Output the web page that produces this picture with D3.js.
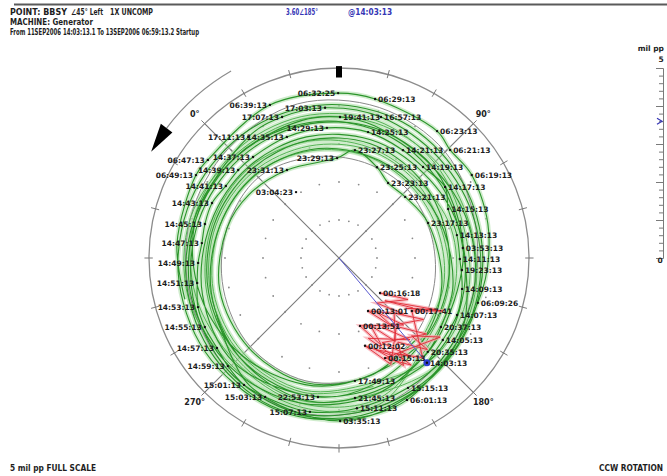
<!DOCTYPE html>
<html>
<head>
<meta charset="utf-8">
<script src="https://cdn.jsdelivr.net/npm/d3@7"></script>
<style>
  html, body { margin: 0; padding: 0; background: #fff; }
  svg { display: block; }
  text { font-family: "DejaVu Sans", "Liberation Sans", sans-serif; }
</style>
</head>
<body>
<svg id="chart" width="667" height="476"></svg>
<script>
// ---------------- data ----------------
const fullScaleMil = 5;                 // mil pp at the outer circle
const gridRings = [1, 2, 3, 4];         // mil pp
const gridPhaseStep = 15;               // degrees
const compassPhases = [0, 90, 180, 270];
const compassLabels = ["0°", "90°", "180°", "270°"];

const headerPoint = ["POINT: BBSY", "∠45° Left", "1X UNCOMP"];
const headerReading = ["3.60∠185°", "@14:03:13"];
const headerMachine = "MACHINE: Generator";
const headerRange = "From 11SEP2006 14:03:13.1 To 13SEP2006 06:59:13.2 Startup";
const footerLeft = "5 mil pp  FULL SCALE";
const footerRight = "CCW ROTATION";
const unitLabel = "mil pp";

// cursor vector (1X amplitude mil pp, phase deg)
const cursorAmp = 3.60;
const cursorPhase = 185;

// 1X vector trend, first run (amplitude mil pp / phase deg, in time order)
const runOneAmp = [
  3.60,3.48,3.45,3.34,3.18,3.16,3.15,3.36,3.26,3.30,3.40,3.44,3.47,3.49,3.52,3.53,3.64,3.64,3.63,3.71,
  3.79,3.93,3.97,3.99,4.08,4.17,4.14,4.12,3.98,3.87,
  3.80,3.66,3.52,3.44,3.55,3.62,3.70,3.82,3.98,4.15,4.22,4.05,3.92,3.78,3.70,3.72,3.87,
  3.97,4.00,3.98,3.90,3.78,3.62,3.45,3.26,
  3.10,2.95,2.90,2.98,3.12,3.20,3.28,3.40,3.55,3.70,3.72,3.55,3.40,3.25,
  3.30,3.45,3.60,3.71,
  3.75,3.80,3.90,4.02,4.05,3.95,3.72,3.40,3.24,
  3.10,2.85,2.75,2.80,2.95,3.10,3.25,3.48,3.70,3.85,3.71,
  3.60,3.40,3.25,3.15,3.22,3.30,3.38,3.50,3.72,3.90,3.70,
  3.45,3.10,2.80,2.52,2.37,2.36,2.59,2.87,2.63,2.69,2.90,3.05,3.25,3.35,3.40,3.20,2.95
];
const runOnePhase = [
  185,173.3,160.8,149.1,135.5,124,110.8,101.2,87.7,75.7,58,39.7,21.7,4.6,356.1,347.5,338.4,329.2,321.2,313,
  305,295.8,287.8,278.6,270.8,261.8,253,235.7,218.2,197,
  180,150,120,90,60,30,0,330,300,270,240,210,180,150,120,90,61.6,
  39.7,23,8.1,330,300,270,240,217.6,
  180,150,120,90,60,30,0,330,300,270,240,210,180,140.6,
  120,90,60,45.4,
  30,0,330,300,270,240,210,181.6,169.1,
  150,120,90,60,30,0,330,300,270,240,218.5,
  180,150,120,90,60,30,0,330,300,270,233.6,
  210,180,150,113.5,92.3,78.2,67.7,53.4,43.9,14.4,350,330,300,270,240,210,180
];

// 1X vector trend, unlabelled middle run
const runMidAmp = [
  3.05,2.85,2.70,2.68,2.78,2.92,3.12,3.25,3.42,3.55,3.60,3.40,
  3.62,3.52,3.38,3.55,3.75,3.85,3.92,3.95,3.90,3.85,3.95,3.85,
  3.30,3.15,3.05,2.92,3.02,3.18,3.35,3.45,3.60,3.78,3.88,3.70,
  3.85,3.70,3.55,3.60,3.68,3.78,3.85,4.05,4.10,4.00,4.05,4.00,
  3.20,2.98,2.80,2.85,2.95,3.05,3.20,3.35,3.50,3.62,3.66,3.50
];
const runMidPhase = [
  180,150,120,90,60,30,0,330,300,270,240,210,
  180,150,120,90,60,30,0,330,300,270,240,210,
  180,150,120,90,60,30,0,330,300,270,240,210,
  180,150,120,90,60,30,0,330,300,270,240,210,
  180,150,120,90,60,30,0,330,300,270,240,210
];

// 1X vector trend, second run
const runTwoAmp = [
  3.55,4.10,4.29,4.05,3.75,3.27,3.30,3.45,3.62,3.75,3.90,4.05,4.18,4.28,4.20,4.00,
  3.85,3.78,3.82,3.95,4.05,4.12,4.18,4.25,4.30,4.32,4.25,4.14,3.84,4.00,4.12,4.08,
  4.22,4.29,4.34,4.42,4.31,4.35,4.28,4.20
];
const runTwoPhase = [
  290,260,224.6,195,165,130.4,100,70,40,10,340,310,280,250,220,190,
  160,130,100,70,40,10,340,310,280,250,225,199.4,152.9,125,103,90.8,
  82.7,57.8,44.7,20.7,351.8,345.1,320,300
];

// startup transient
const startupAmp = [
  1.42,2.12,1.55,2.25,1.59,2.29,1.75,2.45,1.87,2.57,1.95,2.65,2.05,2.75,2.15,2.85,2.25,2.95,2.41,3.11,
  2.35,3.05,2.50,3.20,2.60,3.30,2.70,3.35,2.80,3.38,2.90,3.40,2.95,3.42,2.37,3.07,2.20,2.90,1.65,2.35
];
const startupPhase = [
  175.5,166,185,176,196.3,187,190,181,207.8,199,200,191,180,171,193,184,205,196,208.5,199,
  185,176,198,189,203,194,190,181,182,173,200.3,191,194,185,171,162,172,163,178,169
];

// reference loops
const refLoopPhase = [0,30,60,90,120,150,180,210,240,270,300,330];
const refInnerAmp  = [3.00,2.75,2.60,2.55,2.50,2.60,2.85,3.20,3.35,3.30,3.15,3.05];
const refOuterAmp  = [4.10,4.20,4.10,3.95,3.70,3.65,3.80,4.05,4.20,4.15,4.05,4.05];

// time stamps along the trend
const stampTimes = [
  "06:32:25","06:39:13","17:03:13","06:29:13","17:07:13","19:41:13","16:57:13","14:29:13","14:25:13","06:23:13",
  "17:11:13","14:35:13","23:27:13","14:21:13","06:21:13","06:47:13","14:37:13","23:29:13","23:25:13","14:19:13",
  "06:19:13","06:49:13","14:39:13","23:31:13","23:23:13","14:17:13","14:41:13","03:04:23","23:21:13","14:43:13",
  "14:15:13","23:17:13","14:45:13","14:13:13","14:47:13","03:53:13","14:11:13","14:49:13","19:23:13","14:51:13",
  "14:09:13","00:16:18","06:09:26","14:53:13","00:13:01","00:17:41","14:07:13","00:13:51","14:55:13","20:37:13",
  "14:05:13","00:12:02","14:57:13","20:35:13","00:15:13","14:03:13","14:59:13","17:49:13","15:01:13","15:15:13",
  "15:03:13","22:53:13","21:45:13","06:01:13","15:11:13","15:07:13","03:35:13"
];
const stampAmp = [
  4.34,4.42,3.97,4.29,4.00,3.71,3.87,3.44,3.40,4.22,
  3.98,3.47,2.87,3.30,4.08,4.31,3.49,2.63,2.59,3.26,
  4.12,4.35,3.52,2.69,2.36,3.36,3.53,2.07,2.37,3.64,
  3.15,2.52,3.64,3.16,3.63,3.27,3.18,3.71,3.25,3.79,
  3.34,1.42,3.84,3.93,1.59,2.37,3.45,1.87,3.97,3.24,
  3.48,2.41,3.99,3.40,2.90,3.60,4.08,3.26,4.17,3.87,
  4.14,3.70,3.71,4.14,3.98,4.12,4.29
];
const stampPhase = [
  44.7,20.7,39.7,57.8,23,45.4,61.6,39.7,58,82.7,
  8.1,21.7,53.4,75.7,90.8,351.8,4.6,43.9,67.7,87.7,
  103,345.1,356.1,14.4,78.2,101.2,347.5,11.9,92.3,338.4,
  110.8,113.5,329.2,124,321.2,130.4,135.5,313,140.6,305,
  149.1,175.5,152.9,295.8,196.3,171,160.8,207.8,287.8,169.1,
  173.3,208.5,278.6,181.6,200.3,185,270.8,217.6,261.8,197,
  253,233.6,218.5,199.4,218.2,235.7,224.6
];

// ---------------- layout ----------------
const svg = d3.select("#chart");
const cx = 339, cy = 258, R = 190;
const probeOffset = 45;   // 0° sits 45° left of vertical, phase runs clockwise

const xs = d3.scaleLinear().domain([-fullScaleMil, fullScaleMil]).range([cx - R, cx + R]);
const ys = d3.scaleLinear().domain([-fullScaleMil, fullScaleMil]).range([cy + R, cy - R]);
const toRad = d => d * Math.PI / 180;
function pt(amp, phase) {
  const a = toRad(phase - probeOffset);
  return [xs(amp * Math.sin(a)), ys(amp * Math.cos(a))];
}
const pxPerMil = xs(1) - xs(0);

// header rule
svg.append("line").attr("x1", 14).attr("x2", 667).attr("y1", 4.5).attr("y2", 4.5)
  .attr("stroke", "#5a5a5a").attr("stroke-width", 2);

// header text
const hdr = svg.append("g").attr("font-weight", "bold").attr("fill", "#1e1e1e").attr("font-size", 8);
const hdrItems = [
  {t: headerPoint[0], x: 10, y: 15, w: 57},
  {t: headerPoint[1], x: 71, y: 15, w: 32},
  {t: headerPoint[2], x: 110, y: 15, w: 43},
  {t: headerReading[0], x: 286, y: 15, w: 32, c: "#3535b5"},
  {t: headerReading[1], x: 348, y: 15, w: 44, c: "#3535b5"},
  {t: headerMachine, x: 10, y: 25, w: 83},
  {t: headerRange, x: 10, y: 35, w: 189}
];
hdr.selectAll("text").data(hdrItems).join("text")
  .attr("x", d => d.x).attr("y", d => d.y)
  .attr("textLength", d => d.w).attr("lengthAdjust", "spacingAndGlyphs")
  .attr("fill", d => d.c || null)
  .text(d => d.t);

// footer
svg.append("text").attr("x", 10).attr("y", 471).attr("font-size", 8).attr("font-weight", "bold")
  .attr("fill", "#1e1e1e").attr("textLength", 86).attr("lengthAdjust", "spacingAndGlyphs").text(footerLeft);
svg.append("text").attr("x", 663).attr("y", 471).attr("font-size", 8).attr("font-weight", "bold")
  .attr("text-anchor", "end").attr("fill", "#1e1e1e").attr("textLength", 64).attr("lengthAdjust", "spacingAndGlyphs")
  .text(footerRight);

// ---------------- polar grid ----------------
const grid = svg.append("g");
const dots = [];
gridRings.forEach(r => d3.range(0, 360, gridPhaseStep).forEach(p => dots.push(pt(r, p))));
grid.selectAll("circle.dot").data(dots).join("circle").attr("class", "dot")
  .attr("cx", d => d[0]).attr("cy", d => d[1]).attr("r", 0.9).attr("fill", "#8a8a8a");

grid.append("circle").attr("cx", xs(0)).attr("cy", ys(0)).attr("r", pxPerMil * fullScaleMil)
  .attr("fill", "none").attr("stroke", "#8c8c8c").attr("stroke-width", 1.3);

// crosshair along the 0/180 and 90/270 phase directions
[[0, 180], [90, 270]].forEach(([a, b]) => {
  const p1 = pt(fullScaleMil, a), p2 = pt(fullScaleMil, b);
  grid.append("line").attr("x1", p1[0]).attr("y1", p1[1]).attr("x2", p2[0]).attr("y2", p2[1])
    .attr("stroke", "#7a7a7a").attr("stroke-width", 1.1);
});

// rim ticks every 15°
d3.range(0, 360, gridPhaseStep).filter(p => p !== probeOffset).forEach(p => {
  const a = pt(fullScaleMil - 0.1, p), b = pt(fullScaleMil + 0.12, p);
  grid.append("line").attr("x1", a[0]).attr("y1", a[1]).attr("x2", b[0]).attr("y2", b[1])
    .attr("stroke", "#7a7a7a").attr("stroke-width", 1);
});

// probe marker at top of rim
grid.append("rect").attr("x", xs(0) - 3).attr("y", ys(fullScaleMil + 0.05))
  .attr("width", 6).attr("height", ys(fullScaleMil - 0.25) - ys(fullScaleMil + 0.05)).attr("fill", "#000");

// compass labels
grid.selectAll("text.cmp").data(compassPhases).join("text").attr("class", "cmp")
  .attr("x", d => pt(fullScaleMil + 0.37, d)[0])
  .attr("y", d => pt(fullScaleMil + 0.37, d)[1] + 3)
  .attr("text-anchor", "middle").attr("font-size", 8).attr("font-weight", "bold").attr("fill", "#222")
  .text((d, i) => compassLabels[i]);

// rotation arrow (counter-clockwise)
const arcR = pxPerMil * 5.68;
const arcPath = d3.path();
arcPath.arc(xs(0), ys(0), arcR, toRad(-30 - 90), toRad(-53 - 90), true);
grid.append("path").attr("d", arcPath.toString()).attr("fill", "none")
  .attr("stroke", "#8c8c8c").attr("stroke-width", 1.2);
const tip = pt(5.68, -60.5 + probeOffset);
const b1 = pt(5.68 - 0.19, -53 + probeOffset), b2 = pt(5.68 + 0.19, -53 + probeOffset);
grid.append("path").attr("d", `M${tip}L${b1}L${b2}Z`).attr("fill", "#000");

// ---------------- traces ----------------
const curve = d3.line().curve(d3.curveCatmullRom.alpha(0.5));
const closed = d3.line().curve(d3.curveCatmullRomClosed.alpha(0.5));
const trendPts = (amps, phases) => amps.map((a, i) => pt(a, phases[i]));

const traces = svg.append("g");
const runOne = trendPts(runOneAmp, runOnePhase);
const runMid = trendPts(runMidAmp, runMidPhase);
const runTwo = trendPts(runTwoAmp, runTwoPhase);
const runs = [runOne, runMid, runTwo];

// soft halo under every strand
runs.forEach(p => {
  traces.append("path").attr("d", curve(p)).attr("fill", "none")
    .attr("stroke", "#a9dca4").attr("stroke-width", 4.5).attr("stroke-opacity", 0.55);
});
[refInnerAmp, refOuterAmp].forEach(amps => {
  traces.append("path").attr("d", closed(trendPts(amps, refLoopPhase))).attr("fill", "none")
    .attr("stroke", "#8a8a8a").attr("stroke-width", 1);
});
traces.append("path").attr("d", curve(runMid)).attr("fill", "none")
  .attr("stroke", "#55b455").attr("stroke-width", 1);
[runOne, runTwo].forEach(p => {
  traces.append("path").attr("d", curve(p)).attr("fill", "none")
    .attr("stroke", "#2a942a").attr("stroke-width", 1.1);
});

// startup transient
const startup = trendPts(startupAmp, startupPhase);
traces.append("path").attr("d", d3.line()(startup)).attr("fill", "none")
  .attr("stroke", "#f6a3aa").attr("stroke-width", 3.5).attr("stroke-opacity", 0.7);
traces.append("path").attr("d", d3.line()(startup)).attr("fill", "none")
  .attr("stroke", "#e02a36").attr("stroke-width", 0.9);

// cursor vector
const cur = pt(cursorAmp, cursorPhase);
traces.append("line").attr("x1", xs(0)).attr("y1", ys(0)).attr("x2", cur[0]).attr("y2", cur[1])
  .attr("stroke", "#5a5ad0").attr("stroke-width", 1);
traces.append("circle").attr("cx", cur[0]).attr("cy", cur[1]).attr("r", 3.5).attr("fill", "#2c3fd0");

// ---------------- time stamps ----------------
const stamps = stampTimes.map((t, i) => {
  const p = pt(stampAmp[i], stampPhase[i]);
  return {t, x: p[0], y: p[1], left: p[0] < xs(0)};
});
const sg = svg.append("g");
sg.selectAll("circle").data(stamps).join("circle")
  .attr("cx", d => d.x).attr("cy", d => d.y).attr("r", 1.2).attr("fill", "#111");
sg.selectAll("text").data(stamps).join("text")
  .attr("x", d => d.left ? d.x - 3 : d.x + 3)
  .attr("y", d => d.y + 2.8)
  .attr("text-anchor", d => d.left ? "end" : "start")
  .attr("font-size", 7.5).attr("font-weight", "bold").attr("fill", "#1c1c1c")
  .text(d => d.t);

// ---------------- amplitude scale bar ----------------
const barX = 663;
const bar = d3.scaleLinear().domain([0, fullScaleMil]).range([ys(0), ys(fullScaleMil)]);
const barG = svg.append("g").attr("transform", `translate(${barX},0)`);
barG.call(d3.axisLeft(bar).tickValues(d3.range(0, fullScaleMil + 0.001, 0.2)).tickSize(4).tickFormat(""));
barG.append("g").call(d3.axisLeft(bar).tickValues(d3.range(0, fullScaleMil + 1)).tickSize(7).tickFormat(""))
  .select(".domain").remove();
barG.selectAll("line,path").attr("stroke", "#7a7a7a");
svg.append("text").attr("x", 664).attr("y", 51).attr("text-anchor", "end")
  .attr("font-size", 7.5).attr("font-weight", "bold").attr("fill", "#222").text(unitLabel);
svg.append("text").attr("x", 661).attr("y", 62).attr("text-anchor", "middle")
  .attr("font-size", 7.5).attr("font-weight", "bold").attr("fill", "#222").text(fullScaleMil);
svg.append("text").attr("x", 660).attr("y", 263).attr("text-anchor", "middle")
  .attr("font-size", 7.5).attr("font-weight", "bold").attr("fill", "#222").text(0);
const bv = bar(cursorAmp);
svg.append("path").attr("d", `M${barX - 6},${bv - 3}L${barX - 1},${bv}L${barX - 6},${bv + 3}`)
  .attr("fill", "none").attr("stroke", "#3535b5").attr("stroke-width", 1.2);
</script>
</body>
</html>
